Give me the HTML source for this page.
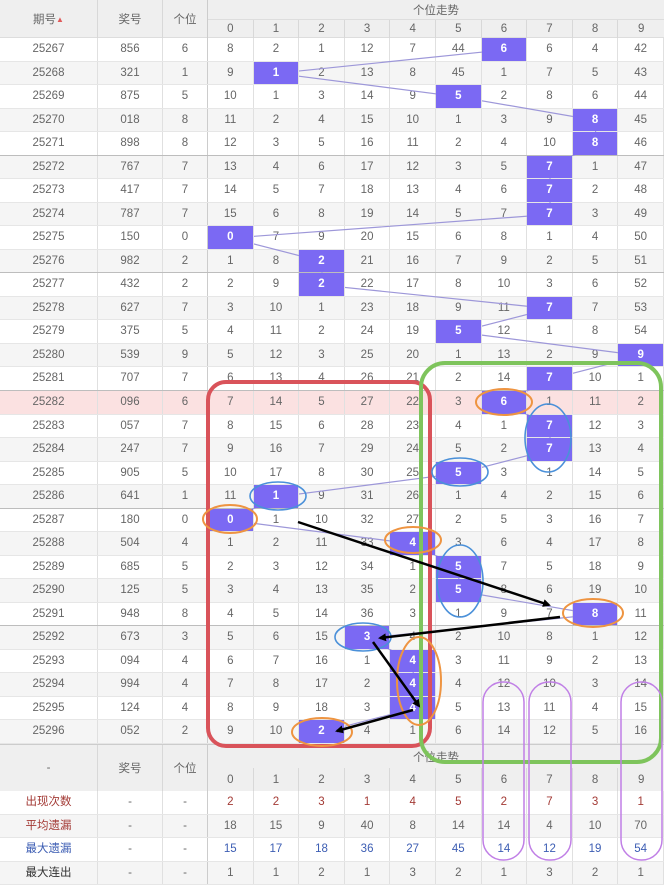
<!DOCTYPE html>
<html><head><meta charset="utf-8">
<style>
*{margin:0;padding:0;box-sizing:border-box}
body{width:664px;height:888px;background:#fff;position:relative;overflow:hidden;font-family:"Liberation Sans","Noto Sans CJK SC",sans-serif;font-size:11.5px;color:#666}
.hd{position:absolute;left:0;top:0;width:664px;height:38px;background:#efefef;border-bottom:1px solid #ddd}
.hd div,.fh div{position:absolute;display:flex;align-items:center;justify-content:center;border-right:1px solid #d8d8d8}
#body{position:absolute;left:0;top:38px;width:664px}
.r{display:flex;height:23.533px;border-bottom:1px solid #e6e6e6;background:#fff}
.r.g{background:#f5f5f5}
.r.p{background:#fbe1e1}
.r.s{border-bottom:1px solid #bdbdbd}
.r i{font-style:normal;width:45.6px;text-align:center;line-height:22.5px;border-right:1px solid #e0e0e0;flex:none}
.r i:nth-child(1){width:98px}
.r i:nth-child(2){width:65px}
.r i:nth-child(3){width:45px;border-right:1px solid #ccc}
.r i.h{background:#7b69f3;color:#fff;font-weight:bold;position:relative;z-index:2}
.fh{position:absolute;left:0;top:744px;width:664px;height:47px;background:#efefef;border-top:1px solid #ccc}
#foot{position:absolute;left:0;top:791px;width:664px}
.red i{color:#a33a35}
.blu i{color:#3c5db3}
.r i.lr{color:#a33a35}
.r i.lb{color:#3c5db3}
.r i.lk{color:#333}
svg{position:absolute;left:0;top:0}
</style></head><body>
<div class="hd">
<div style="left:0;top:0;width:98px;height:38px">期号<span style="color:#e05a5a;font-size:8px">▲</span></div>
<div style="left:98px;top:0;width:65px;height:38px">奖号</div>
<div style="left:163px;top:0;width:45px;height:38px;border-right:1px solid #ccc">个位</div>
<div style="left:208px;top:0;width:456px;height:20px;border-bottom:1px solid #ddd;border-right:none">个位走势</div>
<div style="left:208px;top:20px;width:45.6px;height:18px">0</div>
<div style="left:253.6px;top:20px;width:45.6px;height:18px">1</div>
<div style="left:299.2px;top:20px;width:45.6px;height:18px">2</div>
<div style="left:344.8px;top:20px;width:45.6px;height:18px">3</div>
<div style="left:390.4px;top:20px;width:45.6px;height:18px">4</div>
<div style="left:436px;top:20px;width:45.6px;height:18px">5</div>
<div style="left:481.6px;top:20px;width:45.6px;height:18px">6</div>
<div style="left:527.2px;top:20px;width:45.6px;height:18px">7</div>
<div style="left:572.8px;top:20px;width:45.6px;height:18px">8</div>
<div style="left:618.4px;top:20px;width:45.6px;height:18px;border-right:none">9</div>
</div>

<svg width="664" height="888" style="z-index:1"><polyline fill="none" stroke="#9d97d9" stroke-width="1.2" points="504.4,49.8 276.4,73.3 458.8,96.8 595.6,120.4 595.6,143.9 550,167.4 550,214.5 230.8,238 322,261.5 322,285.1 550,308.6 458.8,332.1 641.2,355.7 550,379.2 504.4,402.7 550,426.3 550,449.8 458.8,473.3 276.4,496.9 230.8,520.4 413.2,543.9 458.8,567.4 458.8,591 595.6,614.5 367.6,638 413.2,661.6 413.2,708.6 322,732.2"/></svg>

<div id="body">
<div class="r"><i>25267</i><i>856</i><i>6</i><i>8</i><i>2</i><i>1</i><i>12</i><i>7</i><i>44</i><i class="h">6</i><i>6</i><i>4</i><i>42</i></div>
<div class="r g"><i>25268</i><i>321</i><i>1</i><i>9</i><i class="h">1</i><i>2</i><i>13</i><i>8</i><i>45</i><i>1</i><i>7</i><i>5</i><i>43</i></div>
<div class="r"><i>25269</i><i>875</i><i>5</i><i>10</i><i>1</i><i>3</i><i>14</i><i>9</i><i class="h">5</i><i>2</i><i>8</i><i>6</i><i>44</i></div>
<div class="r g"><i>25270</i><i>018</i><i>8</i><i>11</i><i>2</i><i>4</i><i>15</i><i>10</i><i>1</i><i>3</i><i>9</i><i class="h">8</i><i>45</i></div>
<div class="r s"><i>25271</i><i>898</i><i>8</i><i>12</i><i>3</i><i>5</i><i>16</i><i>11</i><i>2</i><i>4</i><i>10</i><i class="h">8</i><i>46</i></div>
<div class="r g"><i>25272</i><i>767</i><i>7</i><i>13</i><i>4</i><i>6</i><i>17</i><i>12</i><i>3</i><i>5</i><i class="h">7</i><i>1</i><i>47</i></div>
<div class="r"><i>25273</i><i>417</i><i>7</i><i>14</i><i>5</i><i>7</i><i>18</i><i>13</i><i>4</i><i>6</i><i class="h">7</i><i>2</i><i>48</i></div>
<div class="r g"><i>25274</i><i>787</i><i>7</i><i>15</i><i>6</i><i>8</i><i>19</i><i>14</i><i>5</i><i>7</i><i class="h">7</i><i>3</i><i>49</i></div>
<div class="r"><i>25275</i><i>150</i><i>0</i><i class="h">0</i><i>7</i><i>9</i><i>20</i><i>15</i><i>6</i><i>8</i><i>1</i><i>4</i><i>50</i></div>
<div class="r g s"><i>25276</i><i>982</i><i>2</i><i>1</i><i>8</i><i class="h">2</i><i>21</i><i>16</i><i>7</i><i>9</i><i>2</i><i>5</i><i>51</i></div>
<div class="r"><i>25277</i><i>432</i><i>2</i><i>2</i><i>9</i><i class="h">2</i><i>22</i><i>17</i><i>8</i><i>10</i><i>3</i><i>6</i><i>52</i></div>
<div class="r g"><i>25278</i><i>627</i><i>7</i><i>3</i><i>10</i><i>1</i><i>23</i><i>18</i><i>9</i><i>11</i><i class="h">7</i><i>7</i><i>53</i></div>
<div class="r"><i>25279</i><i>375</i><i>5</i><i>4</i><i>11</i><i>2</i><i>24</i><i>19</i><i class="h">5</i><i>12</i><i>1</i><i>8</i><i>54</i></div>
<div class="r g"><i>25280</i><i>539</i><i>9</i><i>5</i><i>12</i><i>3</i><i>25</i><i>20</i><i>1</i><i>13</i><i>2</i><i>9</i><i class="h">9</i></div>
<div class="r s"><i>25281</i><i>707</i><i>7</i><i>6</i><i>13</i><i>4</i><i>26</i><i>21</i><i>2</i><i>14</i><i class="h">7</i><i>10</i><i>1</i></div>
<div class="r p"><i>25282</i><i>096</i><i>6</i><i>7</i><i>14</i><i>5</i><i>27</i><i>22</i><i>3</i><i class="h">6</i><i>1</i><i>11</i><i>2</i></div>
<div class="r"><i>25283</i><i>057</i><i>7</i><i>8</i><i>15</i><i>6</i><i>28</i><i>23</i><i>4</i><i>1</i><i class="h">7</i><i>12</i><i>3</i></div>
<div class="r g"><i>25284</i><i>247</i><i>7</i><i>9</i><i>16</i><i>7</i><i>29</i><i>24</i><i>5</i><i>2</i><i class="h">7</i><i>13</i><i>4</i></div>
<div class="r"><i>25285</i><i>905</i><i>5</i><i>10</i><i>17</i><i>8</i><i>30</i><i>25</i><i class="h">5</i><i>3</i><i>1</i><i>14</i><i>5</i></div>
<div class="r g s"><i>25286</i><i>641</i><i>1</i><i>11</i><i class="h">1</i><i>9</i><i>31</i><i>26</i><i>1</i><i>4</i><i>2</i><i>15</i><i>6</i></div>
<div class="r"><i>25287</i><i>180</i><i>0</i><i class="h">0</i><i>1</i><i>10</i><i>32</i><i>27</i><i>2</i><i>5</i><i>3</i><i>16</i><i>7</i></div>
<div class="r g"><i>25288</i><i>504</i><i>4</i><i>1</i><i>2</i><i>11</i><i>33</i><i class="h">4</i><i>3</i><i>6</i><i>4</i><i>17</i><i>8</i></div>
<div class="r"><i>25289</i><i>685</i><i>5</i><i>2</i><i>3</i><i>12</i><i>34</i><i>1</i><i class="h">5</i><i>7</i><i>5</i><i>18</i><i>9</i></div>
<div class="r g"><i>25290</i><i>125</i><i>5</i><i>3</i><i>4</i><i>13</i><i>35</i><i>2</i><i class="h">5</i><i>8</i><i>6</i><i>19</i><i>10</i></div>
<div class="r s"><i>25291</i><i>948</i><i>8</i><i>4</i><i>5</i><i>14</i><i>36</i><i>3</i><i>1</i><i>9</i><i>7</i><i class="h">8</i><i>11</i></div>
<div class="r g"><i>25292</i><i>673</i><i>3</i><i>5</i><i>6</i><i>15</i><i class="h">3</i><i>4</i><i>2</i><i>10</i><i>8</i><i>1</i><i>12</i></div>
<div class="r"><i>25293</i><i>094</i><i>4</i><i>6</i><i>7</i><i>16</i><i>1</i><i class="h">4</i><i>3</i><i>11</i><i>9</i><i>2</i><i>13</i></div>
<div class="r g"><i>25294</i><i>994</i><i>4</i><i>7</i><i>8</i><i>17</i><i>2</i><i class="h">4</i><i>4</i><i>12</i><i>10</i><i>3</i><i>14</i></div>
<div class="r"><i>25295</i><i>124</i><i>4</i><i>8</i><i>9</i><i>18</i><i>3</i><i class="h">4</i><i>5</i><i>13</i><i>11</i><i>4</i><i>15</i></div>
<div class="r g"><i>25296</i><i>052</i><i>2</i><i>9</i><i>10</i><i class="h">2</i><i>4</i><i>1</i><i>6</i><i>14</i><i>12</i><i>5</i><i>16</i></div>
</div>

<div class="fh">
<div style="left:0;top:0;width:98px;height:46px">-</div>
<div style="left:98px;top:0;width:65px;height:46px">奖号</div>
<div style="left:163px;top:0;width:45px;height:46px;border-right:1px solid #ccc">个位</div>
<div style="left:208px;top:0;width:456px;height:23px;border-right:none">个位走势</div>
<div style="left:208px;top:23px;width:45.6px;height:23px">0</div>
<div style="left:253.6px;top:23px;width:45.6px;height:23px">1</div>
<div style="left:299.2px;top:23px;width:45.6px;height:23px">2</div>
<div style="left:344.8px;top:23px;width:45.6px;height:23px">3</div>
<div style="left:390.4px;top:23px;width:45.6px;height:23px">4</div>
<div style="left:436px;top:23px;width:45.6px;height:23px">5</div>
<div style="left:481.6px;top:23px;width:45.6px;height:23px">6</div>
<div style="left:527.2px;top:23px;width:45.6px;height:23px">7</div>
<div style="left:572.8px;top:23px;width:45.6px;height:23px">8</div>
<div style="left:618.4px;top:23px;width:45.6px;height:23px;border-right:none">9</div>
</div>

<div id="foot">
<div class="r red"><i class="lr">出现次数</i><i style="color:#666">-</i><i style="color:#666">-</i><i>2</i><i>2</i><i>3</i><i>1</i><i>4</i><i>5</i><i>2</i><i>7</i><i>3</i><i>1</i></div>
<div class="r g"><i class="lr">平均遗漏</i><i>-</i><i>-</i><i>18</i><i>15</i><i>9</i><i>40</i><i>8</i><i>14</i><i>14</i><i>4</i><i>10</i><i>70</i></div>
<div class="r blu"><i class="lb">最大遗漏</i><i style="color:#666">-</i><i style="color:#666">-</i><i>15</i><i>17</i><i>18</i><i>36</i><i>27</i><i>45</i><i>14</i><i>12</i><i>19</i><i>54</i></div>
<div class="r g"><i class="lk">最大连出</i><i>-</i><i>-</i><i>1</i><i>1</i><i>2</i><i>1</i><i>3</i><i>2</i><i>1</i><i>3</i><i>2</i><i>1</i></div>
</div>

<svg width="664" height="888" style="z-index:3">
<defs><marker id="ah" markerWidth="8" markerHeight="8" refX="6" refY="4" orient="auto" markerUnits="userSpaceOnUse"><path d="M0,0 L8,4 L0,8 z" fill="#000"/></marker></defs>
<rect x="208" y="382" width="222" height="364" rx="18" fill="none" stroke="#d9535a" stroke-width="4"/>
<rect x="421" y="363" width="240" height="399" rx="24" fill="none" stroke="#7ec45c" stroke-width="4"/>
<g fill="none" stroke="#ee9441" stroke-width="2">
<ellipse cx="504" cy="402" rx="28" ry="13"/>
<ellipse cx="230" cy="519" rx="27" ry="14"/>
<ellipse cx="413" cy="540" rx="28" ry="13"/>
<ellipse cx="593" cy="613" rx="30" ry="14"/>
<ellipse cx="419" cy="681" rx="22" ry="44"/>
<ellipse cx="322" cy="732" rx="30" ry="14"/>
</g>
<g fill="none" stroke="#4a90d9" stroke-width="1.6">
<ellipse cx="278" cy="496" rx="28" ry="14"/>
<ellipse cx="548" cy="438" rx="23" ry="34"/>
<ellipse cx="460" cy="472" rx="28" ry="14"/>
<ellipse cx="460" cy="581" rx="23" ry="36"/>
<ellipse cx="363" cy="637" rx="28" ry="14"/>
</g>
<g fill="none" stroke="#c07fe6" stroke-width="1.5">
<rect x="483" y="682" width="41" height="178" rx="20"/>
<rect x="529" y="682" width="42" height="178" rx="20"/>
<rect x="621" y="682" width="41" height="178" rx="20"/>
</g>
<g stroke="#000" stroke-width="2.5" marker-end="url(#ah)">
<line x1="298" y1="522" x2="549" y2="605"/>
<line x1="560" y1="617" x2="380" y2="638"/>
<line x1="373" y1="642" x2="419" y2="706"/>
<line x1="413" y1="710" x2="337" y2="731"/>
</g>
</svg>
</body></html>
